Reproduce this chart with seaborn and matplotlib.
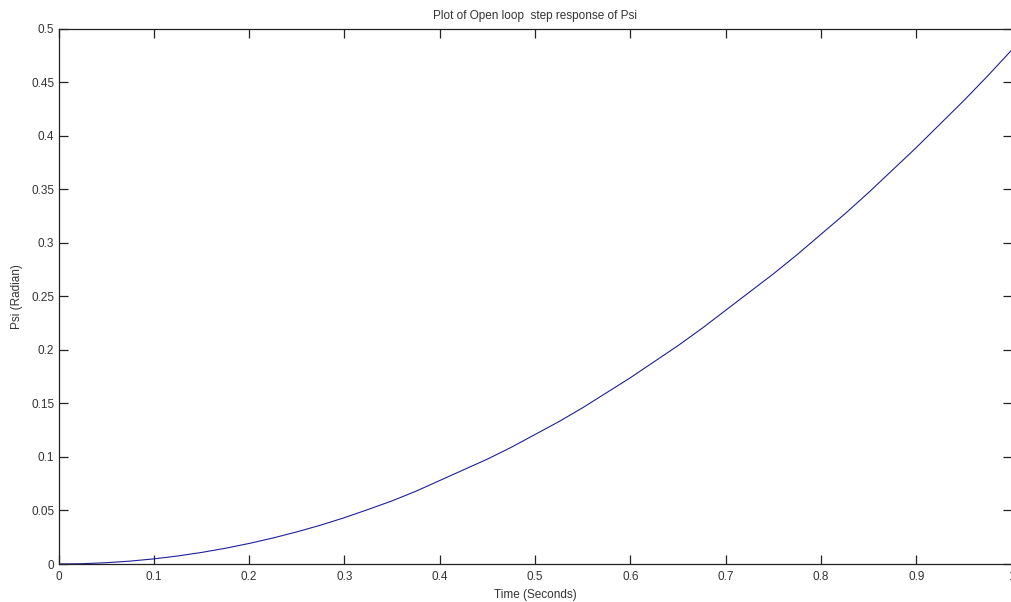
import matplotlib
matplotlib.use("Agg")
import matplotlib.pyplot as plt
import seaborn as sns
import pandas as pd

time_s = [0.0, 0.025, 0.05, 0.075, 0.1, 0.125, 0.15, 0.175, 0.2, 0.225, 0.25,
          0.275, 0.3, 0.325, 0.35, 0.375, 0.4, 0.425, 0.45, 0.475, 0.5,
          0.525, 0.55, 0.575, 0.6, 0.625, 0.65, 0.675, 0.7, 0.725, 0.75,
          0.775, 0.8, 0.825, 0.85, 0.875, 0.9, 0.925, 0.95, 0.975, 1.0]
psi_rad = [0.0, 0.0003, 0.0012, 0.0027, 0.0048, 0.0075, 0.0108, 0.0147, 0.0192,
           0.0243, 0.030, 0.0363, 0.0433, 0.051, 0.059, 0.068, 0.078, 0.088,
           0.098, 0.109, 0.121, 0.133, 0.146, 0.160, 0.174, 0.189, 0.204,
           0.220, 0.237, 0.254, 0.271, 0.289, 0.308, 0.327, 0.347, 0.368,
           0.389, 0.411, 0.433, 0.456, 0.480]
x_ticks = [0, 0.1, 0.2, 0.3, 0.4, 0.5, 0.6, 0.7, 0.8, 0.9, 1]
x_tick_labels = ["0", "0.1", "0.2", "0.3", "0.4", "0.5", "0.6", "0.7", "0.8", "0.9", "1"]
y_ticks = [0, 0.05, 0.1, 0.15, 0.2, 0.25, 0.3, 0.35, 0.4, 0.45, 0.5]
y_tick_labels = ["0", "0.05", "0.1", "0.15", "0.2", "0.25", "0.3", "0.35", "0.4", "0.45", "0.5"]

sns.set_style("white")
plt.rcParams["font.family"] = ["Liberation Sans", "DejaVu Sans"]

df = pd.DataFrame({"Time": time_s, "Psi": psi_rad})

fig = plt.figure(figsize=(10.11, 6.02), dpi=100)
ax = fig.add_axes([0.0579, 0.0631, 0.9426, 0.889])
sns.lineplot(data=df, x="Time", y="Psi", ax=ax, color="#1f1f9a", linewidth=0.8)

ax.set_xlim(0, 1)
ax.set_ylim(0, 0.5)
ax.set_xticks(x_ticks)
ax.set_xticklabels(x_tick_labels)
ax.set_yticks(y_ticks)
ax.set_yticklabels(y_tick_labels)
ax.tick_params(direction="in", length=6.5, width=0.9, colors="#222222",
               labelsize=8.5, labelcolor="#333333",
               top=True, right=True, bottom=True, left=True, pad=3)
ax.tick_params(axis="x", pad=5)
for s in ax.spines.values():
    s.set_visible(True)
    s.set_color("#222222")
    s.set_linewidth(0.9)

ax.set_xlabel("Time (Seconds)", fontsize=8.5, color="#333333", labelpad=4)
ax.set_ylabel("Psi (Radian)", fontsize=8.5, color="#333333", labelpad=6)
ax.set_title("Plot of Open loop  step response of Psi", fontsize=8.5, color="#333333", pad=7)

fig.savefig("out.png", dpi=100, facecolor="white")
